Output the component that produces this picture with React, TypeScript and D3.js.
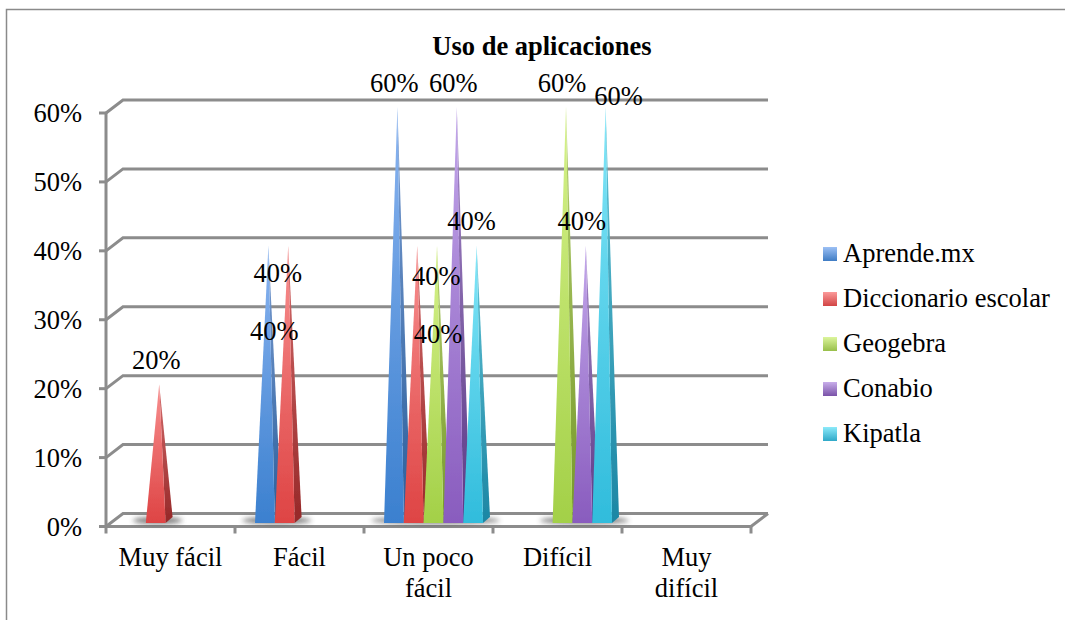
import React from "react";
import * as d3 from "d3";

const categories = ["Muy fácil", "Fácil", "Un poco fácil", "Difícil", "Muy difícil"];
const categoryLines = [["Muy fácil"], ["Fácil"], ["Un poco", "fácil"], ["Difícil"], ["Muy", "difícil"]];
const yTicks = [0, 10, 20, 30, 40, 50, 60];
const seriesNames = ["Aprende.mx", "Diccionario escolar", "Geogebra", "Conabio", "Kipatla"];
const aprende = [0, 40, 60, 0, 0];
const diccionario = [20, 40, 40, 0, 0];
const geogebra = [0, 0, 40, 60, 0];
const conabio = [0, 0, 60, 40, 0];
const kipatla = [0, 0, 40, 60, 0];
const seriesValues = [aprende, diccionario, geogebra, conabio, kipatla];
const seriesFront = [
  ["#8ab4f0", "#3b80cf"],
  ["#f88f8f", "#de4444"],
  ["#d6f28a", "#a3d048"],
  ["#c2a6ea", "#895cbe"],
  ["#82e6f8", "#30bcdc"],
];
const seriesSide = [
  ["#7c9ed2", "#2a5e9c"],
  ["#d46c6c", "#962828"],
  ["#b4d070", "#76982a"],
  ["#a488c8", "#5c3a86"],
  ["#62c4d6", "#1c86a4"],
];
const legendSwatch = [
  ["#9cc0f5", "#3f7cc4"],
  ["#fb9a9a", "#d24545"],
  ["#dcf59c", "#98bf4a"],
  ["#c8aeea", "#7a52a8"],
  ["#8ceafa", "#2fa8c8"],
];
// [series, category, label centre x offset from apex, baseline y offset from apex]
const labelNudges = [
  [1, 0, -3, -15],
  [0, 1, 6, 94],
  [1, 1, -10.5, 36],
  [0, 2, -3, -15],
  [1, 2, 19, 39],
  [2, 2, 1, 97],
  [3, 2, -3.5, -15],
  [4, 2, -5, -16],
  [2, 3, -4, -15],
  [3, 3, -4, -16],
  [4, 3, 13, -2],
];

const W = 1065;
const H = 620;
const FONT = "'Liberation Serif','Times New Roman',serif";
const FS = 26.5;
const frontLeft = 106;
const frontRight = 751;
const frontBase = 526.5;
const frontTop = 113;
const depthX = 17;
const depthY = 13;
const barBase = 523;
const sideX = 7;
const sideY = 6;

const x0 = d3.scaleBand<number>().domain(d3.range(categories.length)).range([frontLeft, frontRight]);
const xInner = d3
  .scaleBand<number>()
  .domain(d3.range(seriesNames.length))
  .range([20, 119]);
const y = d3.scaleLinear().domain([0, 60]).range([frontBase, frontTop]);
const barY = d3.scaleLinear().domain([0, 60]).range([barBase, 107]);
const legendY = d3.scalePoint<number>().domain(d3.range(seriesNames.length)).range([254, 434]);
const GRID = "#8c8c8c";

export default function App() {
  const barW = xInner.bandwidth();
  return (
    <svg
      width={W}
      height={H}
      viewBox={`0 0 ${W} ${H}`}
      style={{ position: "absolute", left: 0, top: 0, background: "#fff", fontFamily: FONT }}
    >
      <defs>
        <filter id="soft" x="-10%" y="-10%" width="120%" height="120%">
          <feGaussianBlur stdDeviation="0.5" />
        </filter>
        <filter id="shadow" x="-30%" y="-100%" width="160%" height="300%">
          <feGaussianBlur stdDeviation="2.5" />
        </filter>
        {seriesNames.map((_, i) => (
          <React.Fragment key={i}>
            <linearGradient id={`front${i}`} x1="0" y1="0" x2="0" y2="1">
              <stop offset="0" stopColor={seriesFront[i][0]} />
              <stop offset="1" stopColor={seriesFront[i][1]} />
            </linearGradient>
            <linearGradient id={`side${i}`} x1="0" y1="0" x2="0" y2="1">
              <stop offset="0" stopColor={seriesSide[i][0]} />
              <stop offset="1" stopColor={seriesSide[i][1]} />
            </linearGradient>
            <linearGradient id={`leg${i}`} x1="0" y1="0" x2="0" y2="1">
              <stop offset="0" stopColor={legendSwatch[i][0]} />
              <stop offset="1" stopColor={legendSwatch[i][1]} />
            </linearGradient>
          </React.Fragment>
        ))}
      </defs>

      {/* outer frame */}
      <path d={`M6.5 620 V9.5 H1065`} fill="none" stroke="#8a8a8a" strokeWidth={1.5} />

      <text x={542} y={55} textAnchor="middle" fontSize={FS} fontWeight="bold" fill="#000">
        Uso de aplicaciones
      </text>

      {/* walls and gridlines */}
      <g filter="url(#soft)" stroke={GRID} fill="none" strokeWidth={3}>
        {yTicks.map((t) => (
          <path
            key={t}
            d={`M${frontLeft} ${y(t)} L${frontLeft + depthX} ${y(t) - depthY} H${frontRight + depthX}`}
          />
        ))}
        <path d={`M${frontLeft} ${y(60)} V${frontBase} H${frontRight} L${frontRight + depthX} ${frontBase - depthY}`} />
        {yTicks.map((t) => (
          <path key={t} d={`M${frontLeft - 7} ${y(t)} H${frontLeft}`} />
        ))}
        {d3.range(categories.length + 1).map((i) => {
          const px = i < categories.length ? x0(i)! : frontRight;
          return <path key={i} d={`M${px} ${frontBase} V${frontBase + 7}`} />;
        })}
      </g>

      {/* floor shadows */}
      {categories.map((_, c) => {
        const present = seriesNames.map((_, s) => s).filter((s) => seriesValues[s][c] > 0);
        if (!present.length) return null;
        const first = x0(c)! + xInner(present[0])!;
        const last = x0(c)! + xInner(present[present.length - 1])! + barW;
        return (
          <ellipse
            key={c}
            cx={(first + last) / 2 + 2}
            cy={barBase - 2.5}
            rx={(last - first) / 2 + 15}
            ry={3.5}
            fill="#444"
            opacity={0.7}
            filter="url(#shadow)"
          />
        );
      })}

      {/* pyramids */}
      <g filter="url(#soft)">
        {seriesNames.map((_, s) =>
          categories.map((_, c) => {
            const v = seriesValues[s][c];
            if (!v) return null;
            const left = x0(c)! + xInner(s)!;
            const right = left + barW;
            const apexX = (left + right + sideX) / 2;
            const apexY = barY(v);
            return (
              <g key={`${s}-${c}`}>
                <polygon
                  points={`${right},${barBase} ${right + sideX},${barBase - sideY} ${apexX},${apexY}`}
                  fill={`url(#side${s})`}
                />
                <polygon points={`${left},${barBase} ${right},${barBase} ${apexX},${apexY}`} fill={`url(#front${s})`} />
              </g>
            );
          })
        )}
      </g>

      {/* data labels */}
      <g fontSize={FS} fill="#000" textAnchor="middle">
        {labelNudges.map(([s, c, dx, dy]) => {
          const v = seriesValues[s][c];
          const apexX = x0(c)! + xInner(s)! + (barW + sideX) / 2;
          return (
            <text key={`${s}-${c}`} x={apexX + dx} y={barY(v) + dy}>
              {v}%
            </text>
          );
        })}
      </g>

      {/* y labels */}
      <g fontSize={FS} fill="#000" textAnchor="end">
        {yTicks.map((t) => (
          <text key={t} x={82} y={y(t) + 9}>
            {t}%
          </text>
        ))}
      </g>

      {/* x labels */}
      <g fontSize={FS} fill="#000" textAnchor="middle">
        {categoryLines.map((lines, c) => {
          const cx = x0(c)! + x0.bandwidth() / 2;
          return lines.map((line, i) => (
            <text key={i} x={cx} y={566 + i * 31}>
              {line}
            </text>
          ));
        })}
      </g>

      {/* legend */}
      <g>
        {seriesNames.map((name, i) => (
          <g key={name}>
            <rect x={823} y={legendY(i)! - 7} width={14} height={14} fill={`url(#leg${i})`} />
            <text x={843} y={legendY(i)! + 8} fontSize={FS} fill="#000">
              {name}
            </text>
          </g>
        ))}
      </g>
    </svg>
  );
}
